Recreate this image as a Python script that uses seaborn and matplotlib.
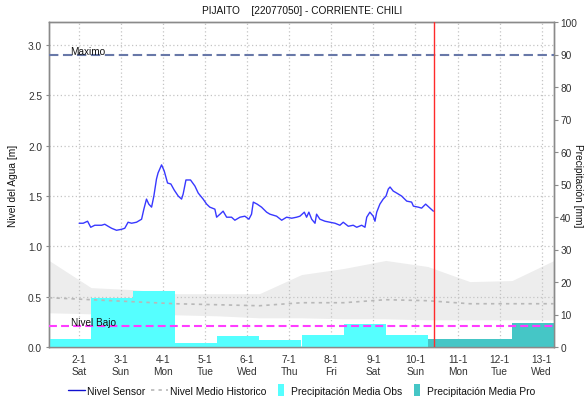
import matplotlib
matplotlib.use("Agg")
import matplotlib.pyplot as plt
import matplotlib.dates as mdates
from matplotlib.lines import Line2D
from matplotlib.path import Path
from matplotlib.ticker import FuncFormatter, FormatStrFormatter, MultipleLocator
import pandas as pd
import seaborn as sns

# ---------------------------------------------------------------- data
title = "PIJAITO    [22077050] - CORRIENTE: CHILI"
origin = pd.Timestamp("2021-01-02 00:00")

# sensor level readings: hours after origin and level [m]
sensor_hours = [0.2, 2.5, 5.0, 6.8, 9.1, 13.0, 14.8, 16.7, 18.7, 21.5,
                24.4, 26.2, 28.1, 30.1, 32.9, 35.8, 37.1, 38.6, 39.9, 41.5,
                42.8, 44.3, 45.2, 47.2, 48.7, 50.6, 52.5, 54.4, 56.7, 58.6,
                59.5, 61.1, 63.7, 66.2, 68.1, 70.9, 72.9, 74.7, 77.6, 78.6,
                80.5, 82.3, 84.3, 87.1, 89.0, 91.9, 94.7, 97.0, 98.5, 99.5,
                101.7, 104.2, 107.1, 109.0, 112.8, 115.7, 118.5, 121.4, 124.2, 126.1,
                128.6, 129.9, 131.2, 132.8, 134.7, 135.6, 137.5, 140.4, 143.2, 146.1,
                148.9, 150.8, 153.7, 156.5, 158.5, 161.3, 163.2, 164.2, 166.0, 167.9,
                168.9, 169.9, 171.7, 173.6, 175.2, 176.5, 177.5, 179.3, 181.3, 184.1,
                187.0, 189.8, 190.8, 193.6, 195.5, 197.8, 200.3, 202.2]
sensor_level = [1.23, 1.23, 1.25, 1.19, 1.21, 1.21, 1.22, 1.20, 1.18, 1.16,
                1.17, 1.18, 1.24, 1.23, 1.24, 1.27, 1.37, 1.47, 1.42, 1.39,
                1.50, 1.67, 1.73, 1.81, 1.75, 1.63, 1.62, 1.56, 1.50, 1.47,
                1.52, 1.66, 1.66, 1.60, 1.53, 1.47, 1.42, 1.39, 1.37, 1.29,
                1.32, 1.35, 1.29, 1.29, 1.26, 1.29, 1.30, 1.27, 1.32, 1.44,
                1.42, 1.39, 1.34, 1.32, 1.30, 1.26, 1.29, 1.28, 1.29, 1.30,
                1.34, 1.29, 1.34, 1.27, 1.23, 1.32, 1.27, 1.25, 1.24, 1.23,
                1.21, 1.24, 1.20, 1.21, 1.19, 1.21, 1.19, 1.29, 1.34, 1.30,
                1.25, 1.34, 1.42, 1.47, 1.50, 1.57, 1.59, 1.55, 1.53, 1.50,
                1.45, 1.44, 1.40, 1.39, 1.38, 1.42, 1.38, 1.35]

# historical statistics, one value per day at 07:00 (Jan 1 .. Jan 13)
hist_days = ["2021-01-01", "2021-01-02", "2021-01-03", "2021-01-04", "2021-01-05",
             "2021-01-06", "2021-01-07", "2021-01-08", "2021-01-09", "2021-01-10",
             "2021-01-11", "2021-01-12", "2021-01-13"]
hist_upper = [0.86, 0.59, 0.57, 0.53, 0.53, 0.53, 0.72, 0.78, 0.86, 0.80, 0.65, 0.66, 0.86]
hist_lower = [0.34, 0.33, 0.33, 0.32, 0.31, 0.29, 0.29, 0.28, 0.28, 0.27, 0.27, 0.27, 0.27]
hist_mean = [0.49, 0.47, 0.45, 0.43, 0.42, 0.41, 0.44, 0.44, 0.47, 0.46, 0.43, 0.43, 0.43]

# daily precipitation [mm], each day counted from 07:00
obs_days = ["2021-01-01", "2021-01-02", "2021-01-03", "2021-01-04", "2021-01-05",
            "2021-01-06", "2021-01-07", "2021-01-08", "2021-01-09"]
obs_mm = [2.5, 15.1, 17.3, 1.2, 3.5, 2.2, 3.7, 7.0, 3.7]
pro_days = ["2021-01-10", "2021-01-11", "2021-01-12"]
pro_mm = [2.5, 2.5, 7.4]

level_max = 2.9
level_low = 0.21
now = pd.Timestamp("2021-01-10 10:36")
window = (pd.Timestamp("2021-01-01 07:00"), pd.Timestamp("2021-01-13 07:00"))

legend_labels = ["Nivel Sensor", "Nivel Medio Historico",
                 "Precipitación Media Obs", "Precipitación Media Pro"]

# ---------------------------------------------------------------- frames
day_shift = pd.Timedelta(hours=7)
sensor = pd.DataFrame({
    "t": mdates.date2num(origin + pd.to_timedelta(sensor_hours, unit="h")),
    "level": sensor_level,
})
hist = pd.DataFrame({
    "t": mdates.date2num(pd.to_datetime(hist_days) + day_shift),
    "upper": hist_upper, "lower": hist_lower, "mean": hist_mean,
})
obs_t = mdates.date2num(pd.to_datetime(obs_days) + day_shift)
pro_t = mdates.date2num(pd.to_datetime(pro_days) + day_shift)

# ---------------------------------------------------------------- style
sns.set_style("white")
plt.rcParams["font.family"] = ["Liberation Sans", "DejaVu Sans"]
TXT = "#333333"
SPINE = "#8a8a8a"
C_SENSOR = "#3838FF"
C_MEAN = "#B8B8B8"
C_OBS = "#55FFFF"
C_PRO = "#45C6C6"
C_BAND = "#EDEDED"

fig = plt.figure(figsize=(5.87, 4.02), dpi=100)
pos = [49 / 587, 54 / 402, 505 / 587, 325 / 402]
ax = fig.add_axes(pos)
ax2 = ax.twinx()
top = fig.add_axes(pos, sharex=ax, sharey=ax)
top.set_axis_off()

xlim = (mdates.date2num(window[0]), mdates.date2num(window[1]))

# historical band (bottom layer)
ax.fill_between(hist["t"], hist["lower"], hist["upper"], color=C_BAND,
                linewidth=0, zorder=0.2)
ax.set_axisbelow(True)
ax.grid(True, which="major", color="#C4C4C4", linestyle=(0, (1, 2)), linewidth=0.9)

# precipitation bars on the right scale
ax2.bar(obs_t, obs_mm, width=1.0, align="edge", color=C_OBS, linewidth=0)
ax2.bar(pro_t, pro_mm, width=1.0, align="edge", color=C_PRO, linewidth=0)
ax2.set_ylim(0, 100)
ax2.yaxis.set_major_locator(MultipleLocator(10))

# lines above the bars
sns.lineplot(data=hist, x="t", y="mean", ax=top, color=C_MEAN, linewidth=1.2,
             linestyle=(0, (2, 2.5)), sort=False)
top.axhline(level_max, color="#6878A8", linewidth=1.5, linestyle=(0, (4.5, 2.2)))
top.axhline(level_low, color="#FF3CFF", linewidth=1.5, linestyle=(0, (3.8, 2)))
sns.lineplot(data=sensor, x="t", y="level", ax=top, color=C_SENSOR, linewidth=1.0,
             sort=False)
top.axvline(mdates.date2num(now), color="#FF2A2A", linewidth=1.0)
top.text(0.042, level_max + 0.008, "Maximo", transform=top.get_yaxis_transform(),
         fontsize=7.2, color="#111111", va="baseline")
top.text(0.043, level_low + 0.008, "Nivel Bajo", transform=top.get_yaxis_transform(),
         fontsize=7.2, color="#111111", va="baseline")

# axes limits and ticks
ax.set_xlim(*xlim)
ax.set_ylim(0, 3.23)
ax.yaxis.set_major_locator(MultipleLocator(0.5))
ax.yaxis.set_major_formatter(FormatStrFormatter("%.1f"))
ax.xaxis.set_major_locator(mdates.DayLocator())
ax.xaxis.set_minor_locator(mdates.HourLocator())


def day_label(x, _pos):
    d = mdates.num2date(x)
    return f"{d.day}-{d.month}\n{d.strftime('%a')}"


ax.xaxis.set_major_formatter(FuncFormatter(day_label))
ax.tick_params(axis="x", which="major", length=3, width=0.8, color=SPINE,
               labelsize=7.3, labelcolor=TXT, pad=2)
ax.tick_params(axis="x", which="minor", length=1.5, width=0.5, color=SPINE)
ax.tick_params(axis="y", length=2, width=0.8, color=SPINE, labelsize=7.3,
               labelcolor=TXT, pad=3)
ax2.tick_params(axis="y", length=3, width=0.8, color=SPINE, labelsize=7.3,
                labelcolor=TXT, pad=1.5)
for a in (ax, ax2):
    for s in a.spines.values():
        s.set_color(SPINE)
        s.set_linewidth(1.0)
        s.set_visible(True)

ax.set_xlabel("")
ax.set_ylabel("Nivel del Agua [m]", fontsize=7.3, color="#111111")
ax.yaxis.set_label_coords(-0.062, 0.5)
ax2.set_ylabel("Precipitación [mm]", fontsize=7.3, color="#111111", rotation=270,
               va="center")
ax2.yaxis.set_label_coords(1.048, 0.5)

fig.text(302.5 / 587, 1 - 11.5 / 402, title, ha="center", va="center",
         fontsize=7.3, color="#111111")

# legend
bar_marker = Path([(-0.27, -0.5), (0.27, -0.5), (0.27, 0.5), (-0.27, 0.5), (-0.27, -0.5)],
                  [Path.MOVETO, Path.LINETO, Path.LINETO, Path.LINETO, Path.CLOSEPOLY])
handles = [
    Line2D([], [], color="#1010D0", linewidth=1.0),
    Line2D([], [], color=C_MEAN, linewidth=1.2, linestyle=(0, (2, 2.5))),
    Line2D([], [], linestyle="none", marker=bar_marker, markersize=8,
           markerfacecolor=C_OBS, markeredgewidth=0),
    Line2D([], [], linestyle="none", marker=bar_marker, markersize=8,
           markerfacecolor=C_PRO, markeredgewidth=0),
]
leg = fig.legend(handles, legend_labels, loc="center", ncol=4, frameon=False,
                 bbox_to_anchor=(302 / 587, 1 - 392 / 402), fontsize=7.4,
                 handlelength=1.6, handletextpad=0.25, columnspacing=0.55)
for t in leg.get_texts():
    t.set_color("#111111")

fig.savefig("out.png", dpi=100)
